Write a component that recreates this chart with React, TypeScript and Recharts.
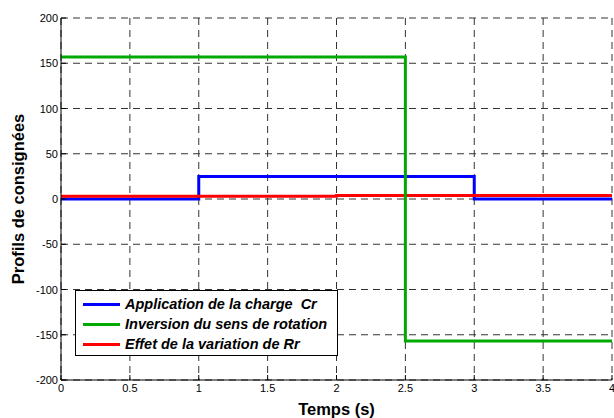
import React from 'react';
import { LineChart, Line, XAxis, YAxis, CartesianGrid, Legend } from 'recharts';

const xTicks = [0, 0.5, 1, 1.5, 2, 2.5, 3, 3.5, 4];
const xTickLabels = ['0', '0.5', '1', '1.5', '2', '2.5', '3', '3.5', '4'];
const yTicks = [-200, -150, -100, -50, 0, 50, 100, 150, 200];

// Step series: value holds from t until the next point
const chargeT = [0, 1, 3, 4];
const chargeV = [0, 25, 0, 0];
const inversionT = [0, 2.5, 4];
const inversionV = [157, -157, -157];
const rrT = [0, 2, 4];
const rrV = [3, 4, 4];

const seriesNames = [
  'Application de la charge  Cr',
  'Inversion du sens de rotation',
  'Effet de la variation de Rr',
];
const seriesColors = ['#0000FF', '#00AA00', '#FF0000'];

const toData = (ts: number[], vs: number[]) => ts.map((t, i) => ({ t, v: vs[i] }));
const chargeData = toData(chargeT, chargeV);
const inversionData = toData(inversionT, inversionV);
const rrData = toData(rrT, rrV);

const FONT = '"Liberation Sans", Arial, sans-serif';

const BottomTick = (props: any) => {
  const { x, y, payload, index } = props;
  return (
    <g>
      <line x1={x} x2={x} y1={y} y2={y - 5} stroke="#000" strokeWidth={1} />
      <text x={x} y={y + 12} textAnchor="middle" fontSize={11} fontFamily={FONT} fill="#000">
        {xTickLabels[index] ?? String(payload.value)}
      </text>
    </g>
  );
};

const LeftTick = (props: any) => {
  const { x, y, payload } = props;
  return (
    <g>
      <line x1={x} x2={x + 5} y1={y} y2={y} stroke="#000" strokeWidth={1} />
      <text x={x - 3} y={y + 4} textAnchor="end" fontSize={11} fontFamily={FONT} fill="#000">
        {String(payload.value)}
      </text>
    </g>
  );
};

const LegendBox = () => (
  <div
    style={{
      boxSizing: 'border-box',
      width: 263,
      height: 66,
      border: '1px solid #000',
      background: '#fff',
      paddingTop: 3,
      fontFamily: FONT,
    }}
  >
    {seriesNames.map((name, i) => (
      <div key={name} style={{ display: 'flex', alignItems: 'center', height: 20 }}>
        <div style={{ width: 37, height: 3, background: seriesColors[i], marginLeft: 7, marginRight: 5 }} />
        <span
          style={{
            fontSize: 14.5,
            fontWeight: 'bold',
            fontStyle: 'italic',
            whiteSpace: 'pre',
            color: '#000',
          }}
        >
          {name}
        </span>
      </div>
    ))}
  </div>
);

export default function App() {
  return (
    <div style={{ position: 'absolute', left: 0, top: 0, background: '#fff' }}>
      <LineChart width={614} height={418} margin={{ top: 18, right: 2, left: 0, bottom: 0 }}>
        <CartesianGrid
          stroke="#333"
          strokeDasharray="7 5"
          strokeWidth={1}
          horizontalValues={yTicks}
          verticalValues={xTicks}
        />
        <XAxis
          dataKey="t"
          type="number"
          domain={[0, 4]}
          ticks={xTicks}
          allowDataOverflow
          height={38}
          tickLine={false}
          tickSize={0}
          tickMargin={0}
          axisLine={{ stroke: '#000', strokeWidth: 1 }}
          tick={<BottomTick />}
          interval={0}
          label={(p: any) => {
            const vb = p.viewBox || { x: 61, y: 380, width: 551, height: 38 };
            return (
              <text
                x={vb.x + vb.width / 2}
                y={vb.y + 29}
                textAnchor="middle"
                dominantBaseline="central"
                fontSize={16.5}
                fontWeight="bold"
                fontFamily={FONT}
                fill="#000"
              >
                Temps (s)
              </text>
            );
          }}
        />
        <XAxis
          xAxisId="top"
          orientation="top"
          type="number"
          domain={[0, 4]}
          ticks={xTicks}
          height={0}
          mirror
          tickSize={5}
          tickFormatter={() => ''}
          interval={0}
          axisLine={{ stroke: '#000', strokeWidth: 1 }}
          tickLine={{ stroke: '#000' }}
        />
        <YAxis
          type="number"
          domain={[-200, 200]}
          ticks={yTicks}
          allowDataOverflow
          width={61}
          tickLine={false}
          tickSize={0}
          tickMargin={0}
          interval={0}
          axisLine={{ stroke: '#000', strokeWidth: 1 }}
          tick={<LeftTick />}
          label={(p: any) => {
            const vb = p.viewBox || { x: 0, y: 18, width: 61, height: 362 };
            const cx = vb.x + 18;
            const cy = vb.y + vb.height / 2;
            return (
              <text
                x={cx}
                y={cy}
                transform={`rotate(-90 ${cx} ${cy})`}
                textAnchor="middle"
                dominantBaseline="central"
                fontSize={16.5}
                fontWeight="bold"
                fontFamily={FONT}
                fill="#000"
              >
                Profils de consignées
              </text>
            );
          }}
        />
        <YAxis
          yAxisId="right"
          orientation="right"
          type="number"
          domain={[-200, 200]}
          ticks={yTicks}
          width={0}
          mirror
          tickSize={5}
          tickFormatter={() => ''}
          interval={0}
          axisLine={{ stroke: '#000', strokeWidth: 1 }}
          tickLine={{ stroke: '#000' }}
        />
        <Line
          data={chargeData}
          dataKey="v"
          type="stepAfter"
          stroke={seriesColors[0]}
          strokeWidth={3}
          dot={false}
          activeDot={false}
          isAnimationActive={false}
        />
        <Line
          data={rrData}
          dataKey="v"
          type="stepAfter"
          stroke={seriesColors[2]}
          strokeWidth={3}
          dot={false}
          activeDot={false}
          isAnimationActive={false}
        />
        <Line
          data={inversionData}
          dataKey="v"
          type="stepAfter"
          stroke={seriesColors[1]}
          strokeWidth={3}
          dot={false}
          activeDot={false}
          isAnimationActive={false}
        />
        <Legend
          layout="vertical"
          align="center"
          verticalAlign="middle"
          content={<LegendBox />}
          wrapperStyle={{ position: 'absolute', left: 75, top: 290, width: 263, height: 66 }}
        />
      </LineChart>
    </div>
  );
}
